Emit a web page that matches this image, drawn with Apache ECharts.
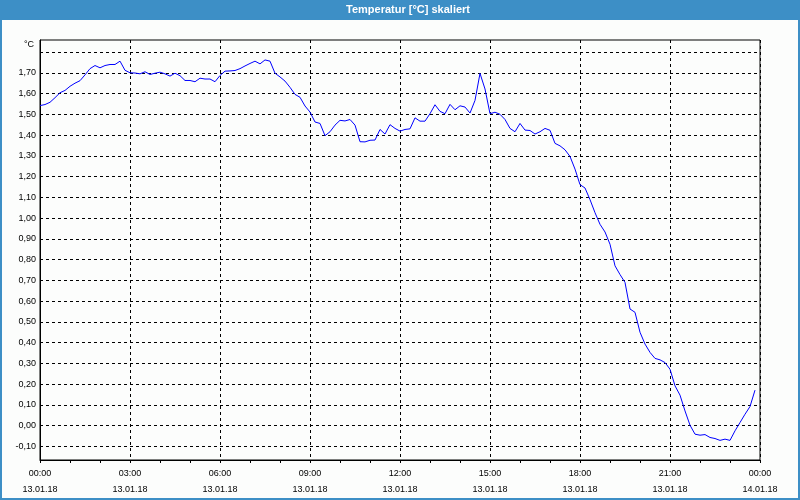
<!DOCTYPE html>
<html>
<head>
<meta charset="utf-8">
<script src="https://cdn.jsdelivr.net/npm/echarts@6/dist/echarts.min.js"></script>
<style>
  html, body { margin: 0; padding: 0; background: #fcfdfc; }
  #chart { width: 800px; height: 500px; }
</style>
</head>
<body>
<div id="chart"></div>
<script>
// ---- data (10-minute samples starting 13.01.18 00:00) ----
const chartTitle = 'Temperatur [°C] skaliert';
const unitLabel = '°C';
const startHour = 0;
const stepHours = 1 / 6;
const temps = [
  1.542, 1.547, 1.558, 1.580, 1.604, 1.615, 1.635, 1.650, 1.662, 1.690, 1.720, 1.735,
  1.724, 1.735, 1.740, 1.740, 1.756, 1.712, 1.700, 1.699, 1.695, 1.705, 1.692, 1.698,
  1.703, 1.695, 1.684, 1.698, 1.686, 1.663, 1.663, 1.657, 1.674, 1.670, 1.670, 1.657,
  1.687, 1.708, 1.709, 1.711, 1.720, 1.733, 1.745, 1.756, 1.743, 1.762, 1.756, 1.698,
  1.680, 1.660, 1.630, 1.596, 1.582, 1.540, 1.511, 1.463, 1.456, 1.397, 1.416, 1.448,
  1.471, 1.468, 1.475, 1.448, 1.368, 1.367, 1.375, 1.376, 1.427, 1.405, 1.450, 1.432,
  1.419, 1.427, 1.430, 1.483, 1.467, 1.467, 1.503, 1.546, 1.514, 1.503, 1.548, 1.522,
  1.541, 1.535, 1.506, 1.567, 1.697, 1.622, 1.503, 1.510, 1.500, 1.475, 1.432, 1.416,
  1.456, 1.424, 1.422, 1.405, 1.416, 1.432, 1.423, 1.360, 1.348, 1.329, 1.297, 1.236,
  1.161, 1.145, 1.089, 1.026, 0.970, 0.933, 0.874, 0.770, 0.728, 0.690, 0.562, 0.546,
  0.450, 0.393, 0.353, 0.324, 0.317, 0.304, 0.272, 0.192, 0.147, 0.071, 0.002, -0.041,
  -0.046, -0.043, -0.057, -0.062, -0.071, -0.065, -0.071, -0.025, 0.015, 0.055, 0.092, 0.171
];
const xTickHours = [0, 3, 6, 9, 12, 15, 18, 21, 24];
const xTimeLabels = ['00:00', '03:00', '06:00', '09:00', '12:00', '15:00', '18:00', '21:00', '00:00'];
const xDateLabels = ['13.01.18', '13.01.18', '13.01.18', '13.01.18', '13.01.18', '13.01.18', '13.01.18', '13.01.18', '14.01.18'];
const yGridValues = [-0.1, 0, 0.1, 0.2, 0.3, 0.4, 0.5, 0.6, 0.7, 0.8, 0.9, 1.0, 1.1, 1.2, 1.3, 1.4, 1.5, 1.6, 1.7, 1.8];
const yLabelValues = [-0.1, 0, 0.1, 0.2, 0.3, 0.4, 0.5, 0.6, 0.7, 0.8, 0.9, 1.0, 1.1, 1.2, 1.3, 1.4, 1.5, 1.6, 1.7];
const yMin = -0.1655;
const yMax = 1.858;

const seriesData = temps.map((v, i) => [startHour + i * stepHours, v]);
const FONT = 'Liberation Sans';

const chart = echarts.init(document.getElementById('chart'), null, { renderer: 'canvas' });
chart.setOption({
  animation: false,
  backgroundColor: '#fcfdfc',
  grid: { left: 40, top: 40, width: 720, height: 420, show: true, borderColor: '#000', borderWidth: 1, backgroundColor: 'transparent' },
  graphic: [
    { type: 'rect', left: 0, top: 0, shape: { width: 800, height: 20 }, style: { fill: '#3d8fc6' }, z: 10 },
    { type: 'rect', shape: { x: 1, y: 1, width: 798, height: 498 }, style: { fill: 'none', stroke: '#3d8fc6', lineWidth: 2 }, z: 10 },
    { type: 'text', x: 408, y: 10, style: { text: chartTitle, fill: '#ffffff', font: 'bold 11px "' + FONT + '"', textAlign: 'center', textVerticalAlign: 'middle' }, z: 11 },
    { type: 'text', x: 34, y: 45, style: { text: unitLabel, fill: '#000', font: '9px "' + FONT + '"', textAlign: 'right', textVerticalAlign: 'middle' }, z: 11 }
  ],
  xAxis: {
    type: 'value',
    min: 0,
    max: 24,
    interval: 3,
    axisLine: { show: true, onZero: false, lineStyle: { color: '#000', width: 1 } },
    axisTick: { show: true, length: 3, lineStyle: { color: '#000' } },
    minorTick: { show: true, splitNumber: 3, length: 3, lineStyle: { color: '#000' } },
    splitLine: { show: true, lineStyle: { color: '#000', type: [3, 3], width: 1 } },
    axisLabel: {
      margin: 6,
      color: '#000',
      fontFamily: FONT,
      fontSize: 9,
      lineHeight: 16,
      showMinLabel: true,
      showMaxLabel: true,
      formatter: function (v) {
        const idx = xTickHours.indexOf(Math.round(v));
        return idx >= 0 ? xTimeLabels[idx] + '\n' + xDateLabels[idx] : '';
      }
    }
  },
  yAxis: {
    type: 'value',
    min: yMin,
    max: yMax,
    axisLine: { show: true, onZero: false, lineStyle: { color: '#000', width: 1 } },
    axisTick: { show: false, customValues: yGridValues },
    splitLine: { show: true, lineStyle: { color: '#000', type: [3, 3], width: 1 } },
    axisLabel: {
      customValues: yLabelValues,
      margin: 4,
      color: '#000',
      fontFamily: FONT,
      fontSize: 9,
      formatter: function (v) { return v.toFixed(2).replace('.', ','); }
    }
  },
  series: [{
    type: 'line',
    data: seriesData,
    showSymbol: false,
    symbol: 'none',
    lineStyle: { color: '#0000ff', width: 1 },
    z: 5
  }]
});
</script>
</body>
</html>
